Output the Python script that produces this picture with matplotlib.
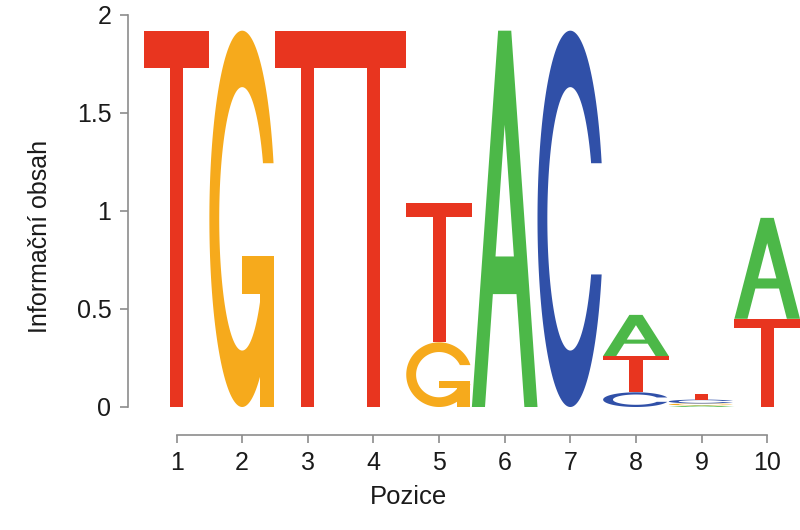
import matplotlib
matplotlib.use("Agg")
import matplotlib.pyplot as plt
import numpy as np
from matplotlib.patches import Polygon

# === DATA: information content per base at each position ===
positions = np.arange(1, 11)
bases = ["A", "C", "G", "T"]
height_A = [0.0, 0.0, 0.0, 0.0, 0.0, 1.92, 0.0, 0.21, 0.008, 0.515]
height_C = [0.0, 0.0, 0.0, 0.0, 0.0, 0.0, 1.92, 0.075, 0.02, 0.0]
height_G = [0.0, 1.92, 0.0, 0.0, 0.33, 0.0, 0.0, 0.0, 0.01, 0.0]
height_T = [1.92, 0.0, 1.92, 1.92, 0.71, 0.0, 0.0, 0.185, 0.03, 0.45]
y_ticks = [0, 0.5, 1, 1.5, 2]
y_tick_labels = ["0", "0.5", "1", "1.5", "2"]

colors = {"A": "#4cb848", "C": "#3050a8", "G": "#f6aa1c", "T": "#e8351f"}

plt.rcParams["font.family"] = ["Liberation Sans", "DejaVu Sans"]


# --- letter outlines in a unit box (seqLogo style polygons) ---
def ring_shape():
    a1 = np.linspace(0.3 + np.pi / 2, np.pi, 100)
    a2 = np.linspace(np.pi, 1.5 * np.pi, 100)
    xl = np.concatenate([0.5 + 0.5 * np.sin(a1), 0.5 + 0.5 * np.sin(a2)])
    yl = np.concatenate([0.5 + 0.5 * np.cos(a1), 0.5 + 0.5 * np.cos(a2)])
    top = (0.5 + 0.5 * np.cos(a1)).max()
    xo = np.concatenate([xl, xl[::-1]])
    yo = np.concatenate([yl, 1 - yl[::-1]])

    xi1 = 0.5 + 0.35 * np.sin(a1)
    yi1 = 0.5 + 0.35 * np.cos(a1)
    keep = yi1 <= top
    xi1, yi1 = xi1[keep], yi1[keep]
    yi1[0] = top
    xi = np.concatenate([xi1, 0.5 + 0.35 * np.sin(a2)])
    yi = np.concatenate([yi1, 0.5 + 0.35 * np.cos(a2)])
    xin = np.concatenate([xi, xi[::-1]])
    yin = np.concatenate([yi, 1 - yi[::-1]])
    x = np.concatenate([xo, xin[::-1]])
    y = np.concatenate([yo, yin[::-1]])
    return np.column_stack([x, y]), (0.5 + 0.5 * np.sin(a1)).max()


def letter_parts(letter):
    # list of (polygon in unit box, fill colour or None for letter colour)
    if letter == "T":
        x = np.array([0, 10, 10, 6, 6, 4, 4, 0]) / 10
        y = np.array([10, 10, 9, 9, 0, 0, 9, 9]) / 10
        return [(np.column_stack([x, y]), None)]
    if letter == "A":
        x = np.array([0, 4, 6, 10, 8, 6.8, 3.2, 2, 0]) / 10
        y = np.array([0, 10, 10, 0, 0, 3, 3, 0, 0]) / 10
        xh = np.array([3.6, 5, 6.4, 3.6]) / 10
        yh = np.array([4, 7.5, 4, 4]) / 10
        return [(np.column_stack([x, y]), None),
                (np.column_stack([xh, yh]), "white")]
    ring, r1 = ring_shape()
    if letter == "C":
        return [(ring, None)]
    h1 = 0.4
    xa = np.array([r1, 0.5, 0.5, r1 - 0.2, r1 - 0.2, r1, r1])
    ya = np.array([h1, h1, h1 - 0.1, h1 - 0.1, 0, 0, h1])
    return [(ring, None), (np.column_stack([xa, ya]), None)]


def draw_letter(ax, letter, x, bottom, height, width=1.0):
    for pts, fill in letter_parts(letter):
        xy = np.column_stack([x - width / 2 + pts[:, 0] * width,
                              bottom + pts[:, 1] * height])
        ax.add_patch(Polygon(xy, closed=True, facecolor=fill or colors[letter],
                             edgecolor="none", clip_on=False))


fig = plt.figure(figsize=(8, 5.3), dpi=100)
ax = fig.add_axes([128 / 800, 1 - 407 / 530, 672 / 800, 392 / 530])

table = np.array([height_A, height_C, height_G, height_T])
for i, pos in enumerate(positions):
    col = table[:, i]
    order = np.argsort(col, kind="stable")  # smallest at the bottom
    bottom = 0.0
    for k in order:
        h = col[k]
        if h <= 0:
            continue
        draw_letter(ax, bases[k], pos, bottom, h)
        bottom += h

ax.set_xlim(0.26, 10.5)
ax.set_ylim(0, 2)

for side in ["top", "right"]:
    ax.spines[side].set_visible(False)
ax.spines["left"].set_bounds(0, 2)
ax.spines["bottom"].set_bounds(1, 10)
ax.spines["bottom"].set_position(("outward", 20))
for side in ["left", "bottom"]:
    ax.spines[side].set_color("#8c8c8c")
    ax.spines[side].set_linewidth(1.2)

ax.set_xticks(positions)
ax.set_xticklabels([str(p) for p in positions])
ax.set_yticks(y_ticks)
ax.set_yticklabels(y_tick_labels)
ax.tick_params(axis="both", colors="#8c8c8c", labelcolor="#1a1a1a",
               length=5.5, width=1.2, labelsize=18)
ax.tick_params(axis="y", pad=6.5)
ax.tick_params(axis="x", pad=6.5)

ax.set_xlabel("Pozice", fontsize=18.5, color="#1a1a1a")
ax.set_ylabel("Informační obsah", fontsize=18, color="#1a1a1a")
ax.xaxis.set_label_coords(0.417, -0.20)
ax.yaxis.set_label_coords(-0.113, 0.434)

fig.savefig("out.png", dpi=100)
